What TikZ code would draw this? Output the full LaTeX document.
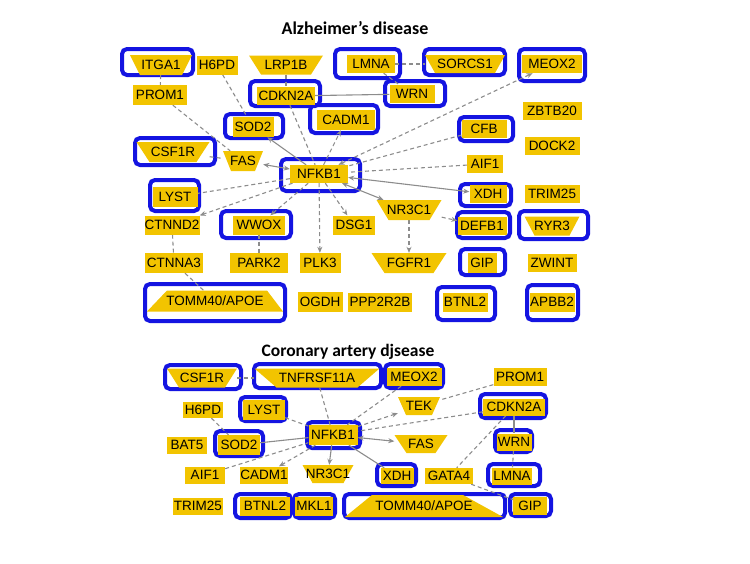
\documentclass[tikz,border=0pt]{standalone}
\usepackage{fontspec}
\setmainfont{Liberation Sans}
\newfontfamily\titlefont{Carlito}
\usetikzlibrary{arrows.meta}
\definecolor{ylw}{RGB}{242,196,0}
\definecolor{bxblue}{RGB}{20,20,225}
\definecolor{edgegray}{RGB}{140,140,140}
\pgfdeclarelayer{bg}
\pgfdeclarelayer{edges}
\pgfsetlayers{bg,edges,main}
\begin{document}
\begin{tikzpicture}[x=1pt,y=-1pt,
  gene/.style={inner sep=0pt, font=\fontsize{13.5}{13.5}\selectfont, text=black, anchor=center},
  sz/.style 2 args={minimum width=#1pt, minimum height=#2pt},
  rectg/.style={gene, fill=ylw},
  trapdn/.style={gene, path picture={\fill[ylw] (path picture bounding box.north west) -- (path picture bounding box.north east) -- ([xshift=-#1pt]path picture bounding box.south east) -- ([xshift=#1pt]path picture bounding box.south west) -- cycle;}},
  trapup/.style 2 args={gene, path picture={\fill[ylw] ([xshift=#1pt]path picture bounding box.north west) -- ([xshift=-#2pt]path picture bounding box.north east) -- (path picture bounding box.south east) -- (path picture bounding box.south west) -- cycle;}},
  bluebox/.style={draw=bxblue, line width=4pt, rounded corners=5pt},
  link/.style={draw=edgegray, line width=1.1pt},
  dlink/.style={link, dash pattern=on 4pt off 3pt},
  toarr/.style={-{Stealth[length=6pt,width=5pt]}},
  botharr/.style={{Stealth[length=6pt,width=5pt]}-{Stealth[length=6pt,width=5pt]}},
  ttl/.style={font=\titlefont\bfseries\fontsize{18}{18}\selectfont}
]
\useasboundingbox (0,0) rectangle (750,563);

% ---------- titles ----------
\node[ttl] (t1) at (355,28) {Alzheimer’s disease};
\node[ttl, font=\titlefont\bfseries\fontsize{17.5}{17.5}\selectfont] (t2) at (348,352) {Coronary artery djsease};

% ---------- Alzheimer's disease nodes ----------
\node[trapdn=10, sz={62}{20}] (aITGA1) at (161,65) {ITGA1};
\node[rectg, sz={41}{19}] (aH6PD) at (217,65) {H6PD};
\node[trapdn=12, sz={74}{19}] (aLRP1B) at (286,65) {LRP1B};
\node[rectg, sz={48}{18}] (aLMNA) at (371,64) {LMNA};
\node[trapdn=10, sz={80}{18}] (aSORCS1) at (465,64) {SORCS1};
\node[rectg, sz={60}{18}] (aMEOX2) at (552,64) {MEOX2};
\node[rectg, sz={54}{20}] (aPROM1) at (160,95) {PROM1};
\node[rectg, sz={58}{18}] (aCDKN2A) at (286,96) {CDKN2A};
\node[rectg, sz={45}{18}] (aWRN) at (412,94) {WRN};
\node[rectg, sz={41}{20}] (aSOD2) at (253,127) {SOD2};
\node[rectg, sz={58}{20}] (aCADM1) at (346,120) {CADM1};
\node[rectg, sz={59}{18}] (aZBTB20) at (552,111) {ZBTB20};
\node[rectg, sz={45}{18}] (aCFB) at (484,129) {CFB};
\node[trapdn=13, sz={73}{20}] (aCSF1R) at (173,152) {CSF1R};
\node[trapdn=8, sz={40}{20}] (aFAS) at (243,161) {FAS};
\node[rectg, sz={55}{18}] (aDOCK2) at (552,146) {DOCK2};
\node[rectg, sz={58}{18}] (aNFKB1) at (319,174) {NFKB1};
\node[rectg, sz={36}{18}] (aAIF1) at (485,164) {AIF1};
\node[rectg, sz={45}{20}] (aLYST) at (175,197) {LYST};
\node[rectg, sz={37}{18}] (aXDH) at (488,194) {XDH};
\node[rectg, sz={55}{18}] (aTRIM25) at (552,194) {TRIM25};
\node[trapdn=12, sz={65}{20}] (aNR3C1) at (409,210) {NR3C1};
\node[rectg, sz={55}{19}] (aCTNND2) at (172,225) {CTNND2};
\node[rectg, sz={52}{19}] (aWWOX) at (259,225) {WWOX};
\node[rectg, sz={42}{19}] (aDSG1) at (354,225) {DSG1};
\node[rectg, sz={49}{18}] (aDEFB1) at (482,226) {DEFB1};
\node[trapdn=10, sz={55}{19}] (aRYR3) at (552,226) {RYR3};
\node[rectg, sz={58}{20}] (aCTNNA3) at (174,263) {CTNNA3};
\node[rectg, sz={58}{20}] (aPARK2) at (259,263) {PARK2};
\node[rectg, sz={41}{20}] (aPLK3) at (320,263) {PLK3};
\node[trapdn=13, sz={75}{20}] (aFGFR1) at (409,263) {FGFR1};
\node[rectg, sz={29}{20}] (aGIP) at (482,263) {GIP};
\node[rectg, sz={49}{18}] (aZWINT) at (552,263) {ZWINT};
\node[trapup={20}{16}, sz={136}{21}] (aTOMM) at (215,301) {TOMM40/APOE};
\node[rectg, sz={45}{20}] (aOGDH) at (320,302) {OGDH};
\node[rectg, sz={64}{19}] (aPPP2R2B) at (380,302) {PPP2R2B};
\node[rectg, sz={45}{19}] (aBTNL2) at (465,302) {BTNL2};
\node[rectg, sz={45}{19}] (aAPBB2) at (552,302) {APBB2};

% ---------- Coronary artery disease nodes ----------
\node[trapdn=12, sz={70}{19}] (cCSF1R) at (202,378) {CSF1R};
\node[trapdn=22, sz={125}{19}] (cTNF) at (317,378) {TNFRSF11A};
\node[rectg, sz={55}{18}] (cMEOX2) at (414,377) {MEOX2};
\node[rectg, sz={53}{18}] (cPROM1) at (520,377) {PROM1};
\node[rectg, sz={40}{16}] (cH6PD) at (203,410) {H6PD};
\node[rectg, sz={42}{20}] (cLYST) at (264,410) {LYST};
\node[trapdn=8, sz={42}{18}] (cTEK) at (419,406) {TEK};
\node[rectg, sz={62}{17}] (cCDKN2A) at (514,407) {CDKN2A};
\node[rectg, sz={49}{20}] (cNFKB1) at (333,435) {NFKB1};
\node[rectg, sz={40}{17}] (cBAT5) at (187,445) {BAT5};
\node[rectg, sz={42}{20}] (cSOD2) at (239,445) {SOD2};
\node[trapdn=12, sz={53}{18}] (cFAS) at (421,444) {FAS};
\node[rectg, sz={35}{17}] (cWRN) at (514,442) {WRN};
\node[rectg, sz={40}{17}] (cAIF1) at (205,475) {AIF1};
\node[rectg, sz={48}{17}] (cCADM1) at (264,475) {CADM1};
\node[trapdn=10, sz={51}{18}] (cNR3C1) at (328,474) {NR3C1};
\node[rectg, sz={33}{16}] (cXDH) at (397,476) {XDH};
\node[rectg, sz={48}{16}] (cGATA4) at (449,476) {GATA4};
\node[rectg, sz={40}{17}] (cLMNA) at (512,476) {LMNA};
\node[rectg, sz={50}{17}] (cTRIM25) at (198,506) {TRIM25};
\node[rectg, sz={50}{19}] (cBTNL2) at (265,506) {BTNL2};
\node[rectg, sz={38}{19}] (cMKL1) at (314,506) {MKL1};
\node[trapup={27}{40}, sz={158}{22}] (cTOMM) at (424,506) {TOMM40/APOE};
\node[rectg, sz={34}{18}] (cGIP) at (530,506) {GIP};

% ---------- blue highlight boxes ----------
\begin{pgfonlayer}{bg}
\draw[bluebox] (122,49) rectangle (193,75);
\draw[bluebox] (335,49) rectangle (400,78);
\draw[bluebox] (424,49) rectangle (505,75);
\draw[bluebox] (519,49) rectangle (585,81);
\draw[bluebox] (250,81) rectangle (320,106);
\draw[bluebox] (385,81) rectangle (445,106);
\draw[bluebox] (225,114) rectangle (283,138);
\draw[bluebox] (310,105) rectangle (378,133);
\draw[bluebox] (459,117) rectangle (513,141);
\draw[bluebox] (135,138) rectangle (215,165);
\draw[bluebox] (281,159) rectangle (360,191);
\draw[bluebox] (150,180) rectangle (199,211);
\draw[bluebox] (460,184) rectangle (511,206);
\draw[bluebox] (221,211) rectangle (291,238);
\draw[bluebox] (457,212) rectangle (510,238);
\draw[bluebox] (519,211) rectangle (588,239);
\draw[bluebox] (460,249) rectangle (505,275);
\draw[bluebox] (145,284) rectangle (285,321);
\draw[bluebox] (437,287) rectangle (495,320);
\draw[bluebox] (527,285) rectangle (578,320);
% coronary
\draw[bluebox] (165,365) rectangle (241,389);
\draw[bluebox] (254,364) rectangle (381,388);
\draw[bluebox] (385,364) rectangle (443,388);
\draw[bluebox] (240,397) rectangle (286,421);
\draw[bluebox] (480,394) rectangle (546,418);
\draw[bluebox] (307,422) rectangle (360,448);
\draw[bluebox] (215,431) rectangle (263,456);
\draw[bluebox] (495,430) rectangle (532,452);
\draw[bluebox] (377,464) rectangle (416,486);
\draw[bluebox] (488,464) rectangle (540,486);
\draw[bluebox] (235,494) rectangle (291,518);
\draw[bluebox] (294,494) rectangle (335,518);
\draw[bluebox] (344,494) rectangle (505,518);
\draw[bluebox] (510,494) rectangle (551,516);
\end{pgfonlayer}

% ---------- connectors ----------
\begin{pgfonlayer}{edges}
% Alzheimer's
\draw[dlink] (aITGA1) -- (aPROM1);
\draw[dlink] (aH6PD) -- (aSOD2);
\draw[dlink] (aPROM1) -- (aFAS);
\draw[dlink] (aLRP1B) -- (aCDKN2A);
\draw[link] (aCDKN2A) -- (aWRN);
\draw[dlink] (aLMNA) -- (aSORCS1);
\draw[dlink] (aLMNA) -- (aWRN);
\draw[dlink] (aCSF1R) -- (aFAS);
\draw[link, botharr] (aNFKB1) -- (aFAS);
\draw[link, toarr] (aNFKB1) -- (aSOD2);
\draw[dlink] (aCDKN2A) -- (aNFKB1);
\draw[dlink, toarr] (aNFKB1) -- (aCADM1);
\draw[dlink, botharr] (aNFKB1) -- (aMEOX2);
\draw[dlink] (aCFB) -- (aNFKB1);
\draw[dlink] (aAIF1) -- (aNFKB1);
\draw[link, botharr] (aNFKB1) -- (aXDH);
\draw[link, botharr] (aNFKB1) -- (aNR3C1);
\draw[dlink, toarr] (aNR3C1) -- (aDEFB1);
\draw[dlink, toarr] (aNR3C1) -- (aFGFR1);
\draw[dlink, toarr] (aNFKB1) -- (aDSG1);
\draw[dlink, toarr] (aNFKB1) -- (aPLK3);
\draw[dlink, toarr] (aNFKB1) -- (aWWOX);
\draw[dlink, toarr] (aNFKB1) -- (aCTNND2);
\draw[dlink] (aNFKB1) -- (aLYST);
\draw[dlink] (aWWOX) -- (aPARK2);
\draw[dlink] (aCTNND2) -- (aCTNNA3);
\draw[dlink] (aCTNNA3) -- (aTOMM);
% Coronary
\draw[dlink] (cCSF1R) -- (cTNF);
\draw[dlink] (cTNF) -- (cNFKB1);
\draw[dlink] (cMEOX2) -- (cNFKB1);
\draw[dlink, toarr] (cNFKB1) -- (cTEK);
\draw[dlink] (cPROM1) -- (cTEK);
\draw[dlink] (cCDKN2A) -- (cNFKB1);
\draw[dlink] (cLYST) -- (cNFKB1);
\draw[link] (cSOD2) -- (cNFKB1);
\draw[dlink] (cH6PD) -- (cSOD2);
\draw[dlink] (cAIF1) -- (cNFKB1);
\draw[dlink, toarr] (cNFKB1) -- (cCADM1);
\draw[link, toarr] (cNFKB1) -- (cNR3C1);
\draw[link] (cNFKB1) -- (cXDH);
\draw[link, botharr] (cNFKB1) -- (cFAS);
\draw[link] (cCDKN2A) -- (cWRN);
\draw[dlink] (cWRN) -- (cLMNA);
\draw[dlink] (cCDKN2A) -- (cGATA4);
\draw[dlink] (cGATA4) -- (cGIP);
\end{pgfonlayer}
\end{tikzpicture}
\end{document}
